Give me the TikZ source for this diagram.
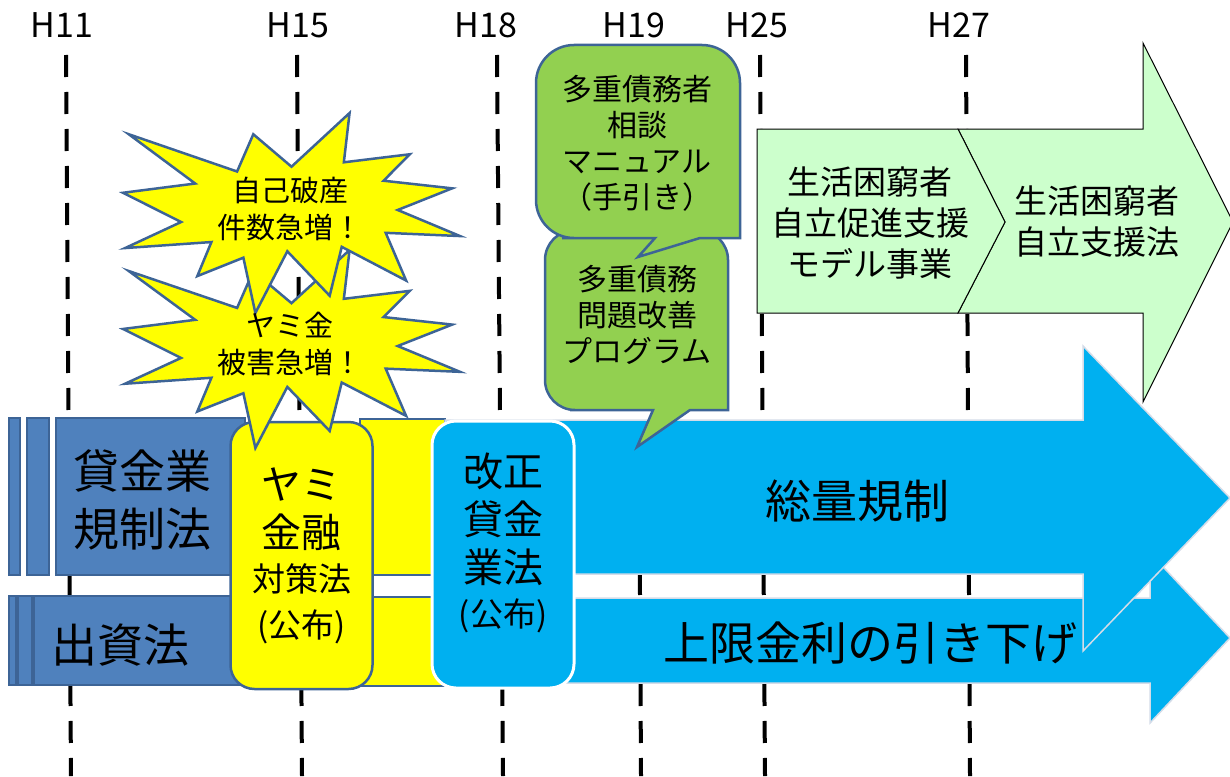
\documentclass[tikz,border=0pt]{standalone}
\usepackage{fontspec}
\setmainfont{Noto Sans CJK JP}
\usetikzlibrary{positioning}

\definecolor{barblue}{HTML}{4F81BD}
\definecolor{edgeblue}{HTML}{3D6496}
\definecolor{lawcyan}{HTML}{00B0F0}
\definecolor{talkgreen}{HTML}{92D050}
\definecolor{mint}{HTML}{CCFFCC}
\definecolor{paleedge}{HTML}{D4DCE8}
\definecolor{alarmyellow}{RGB}{255,255,0}

\tikzstyle{yearline} = [line width=4pt, dash pattern=on 22pt off 15pt]
\tikzstyle{yearlabel} = [font=\fontsize{34}{34}\selectfont, inner sep=0pt]
\tikzstyle{barpart} = [draw=edgeblue, fill=barblue, line width=2pt]
\tikzstyle{yellowpart} = [draw=edgeblue, fill=alarmyellow, line width=2pt]
\tikzstyle{bigarrow} = [draw=paleedge, fill=lawcyan, line width=1.5pt]
\tikzstyle{mintarrow} = [draw=black, fill=mint, line width=1pt]
\tikzstyle{lawbox} = [rectangle, rounded corners=24pt, line width=2.5pt,
  minimum width=142pt, minimum height=267pt, align=center, inner sep=0pt,
  font=\fontsize{40}{48}\selectfont]
\tikzstyle{talk} = [draw=edgeblue, fill=talkgreen, line width=2.5pt]
\tikzstyle{boomshape} = [draw=edgeblue, fill=alarmyellow, line width=2.5pt]
\tikzstyle{bigtext} = [align=center, font=\fontsize{46}{58}\selectfont]
\tikzstyle{midtext} = [align=center, font=\fontsize{33}{41}\selectfont]
\tikzstyle{smalltext} = [align=center, font=\fontsize{30}{36}\selectfont]
\newcommand{\lawsmall}{\fontsize{33}{40}\selectfont}

\tikzset{boom/.pic={
  \draw[boomshape] (108,58) -- (145.22,0) -- (141.55,53.25) -- (183.8,44.57)
    -- (167.02,73.15) -- (210.97,81.37) -- (176.07,104.75) -- (216,132.9)
    -- (168.37,129.42) -- (181.45,180.95) -- (140.2,144.57) -- (132.47,197.37)
    -- (105.32,149.35) -- (84.85,216) -- (77.15,156.27) -- (47.62,176.17)
    -- (56.67,139.37) -- (1.35,145.87) -- (37.22,117.75) -- (0,86.15)
    -- (46.27,76.17) -- (3.7,22.95) -- (73.12,63.2) -- (83.52,22.95) -- cycle;
}}

\begin{document}
\begin{tikzpicture}[x=1pt, y=-1pt]
  \useasboundingbox (0,0) rectangle (1230,776);

  % years
  \node[yearlabel] (h11) at (62,25) {H11};
  \node[yearlabel] (h15) at (298,25) {H15};
  \node[yearlabel] (h18) at (486,25) {H18};
  \node[yearlabel] (h19) at (634,25) {H19};
  \node[yearlabel] (h25) at (757,25) {H25};
  \node[yearlabel] (h27) at (959,25) {H27};
  \draw[yearline] (66,55) -- (71,776);
  \draw[yearline] (297,55) -- (302,776);
  \draw[yearline] (497,55) -- (503,776);
  \draw[yearline] (637,55) -- (641,776);
  \draw[yearline] (760,55) -- (765,776);
  \draw[yearline] (966,55) -- (970,776);

  % support arrows
  \draw[mintarrow] (958,129) -- (1143,129) -- (1143,43) -- (1233,222) -- (1143,402)
    -- (1143,313) -- (958,313) -- (1005,222) -- cycle;
  \draw[mintarrow] (757,129) -- (958,129) -- (1005,222) -- (958,313) -- (757,313) -- cycle;
  \node[midtext] (model) at (870,223) {生活困窮者\\自立促進支援\\モデル事業};
  \node[midtext] (selfhelp) at (1097,222) {生活困窮者\\自立支援法};

  % old law bars
  \draw[barpart] (9,418) rectangle (20,575);
  \draw[barpart] (27,418) rectangle (49,575);
  \draw[barpart] (56,418) rectangle (245,575);
  \draw[barpart] (9,596) rectangle (16,685);
  \draw[barpart] (18,596) rectangle (32,685);
  \draw[barpart] (34,596) rectangle (245,685);
  \draw[yellowpart] (360,419) rectangle (445,575);
  \draw[yellowpart] (360,597) rectangle (445,686);
  \node[bigtext] (kashikin) at (142,500) {貸金業\\規制法};
  \node[bigtext] (shishi) at (120,645) {出資法};

  % new law arrows
  \draw[bigarrow] (445,598) -- (1150,598) -- (1150,553) -- (1230,638) -- (1150,723)
    -- (1150,683) -- (445,683) -- cycle;
  \draw[bigarrow] (445,420) -- (1083,420) -- (1083,346) -- (1230,498) -- (1083,651)
    -- (1083,574) -- (445,574) -- cycle;
  \node[bigtext] (soryo) at (857,501) {総量規制};
  \node[bigtext] (jogen) at (870,643) {上限金利の引き下げ};

  % laws
  \node[lawbox, draw=edgeblue, fill=alarmyellow] (yamikinyu) at (301.5,555.5)
    {ヤミ\\金融\\[-4pt]\lawsmall 対策法\\[-2pt]\lawsmall (公布)};
  \node[lawbox, draw=white, line width=3pt, fill=lawcyan] (kaisei) at (503,554.5)
    {\\[-38pt]改正\\貸金\\業法\\[-4pt]\lawsmall (公布)};

  % talk bubbles
  \draw[talk] (600,410) -- (653,410) -- (637,447) -- (690,410) -- (728,410)
    [rounded corners=30pt] -- (728,230) -- (545,230) -- (545,410) -- cycle;
  \node[smalltext] (program) at (637,315) {多重債務\\問題改善\\プログラム};
  \draw[talk] (600,238) -- (655,238) -- (638,257) -- (700,238) -- (740,238)
    [rounded corners=38pt] -- (740,45) -- (536,45) -- (536,238) -- cycle;
  \node[smalltext] (manual) at (637,143) {多重債務者\\相談\\マニュアル\\（手引き）};

  % bursts
  \begin{scope}[shift={(123,250)}, x=1.5602pt, y=-0.9167pt]
    \pic {boom};
  \end{scope}
  \begin{scope}[shift={(123,113)}, x=1.5602pt, y=-0.9259pt]
    \pic {boom};
  \end{scope}
  \node[smalltext, font=\fontsize{29}{37}\selectfont] (bankrupt) at (290,209) {自己破産\\件数急増！};
  \node[smalltext, font=\fontsize{29}{37}\selectfont] (yamikin) at (290,344) {ヤミ金\\被害急増！};
\end{tikzpicture}
\end{document}
